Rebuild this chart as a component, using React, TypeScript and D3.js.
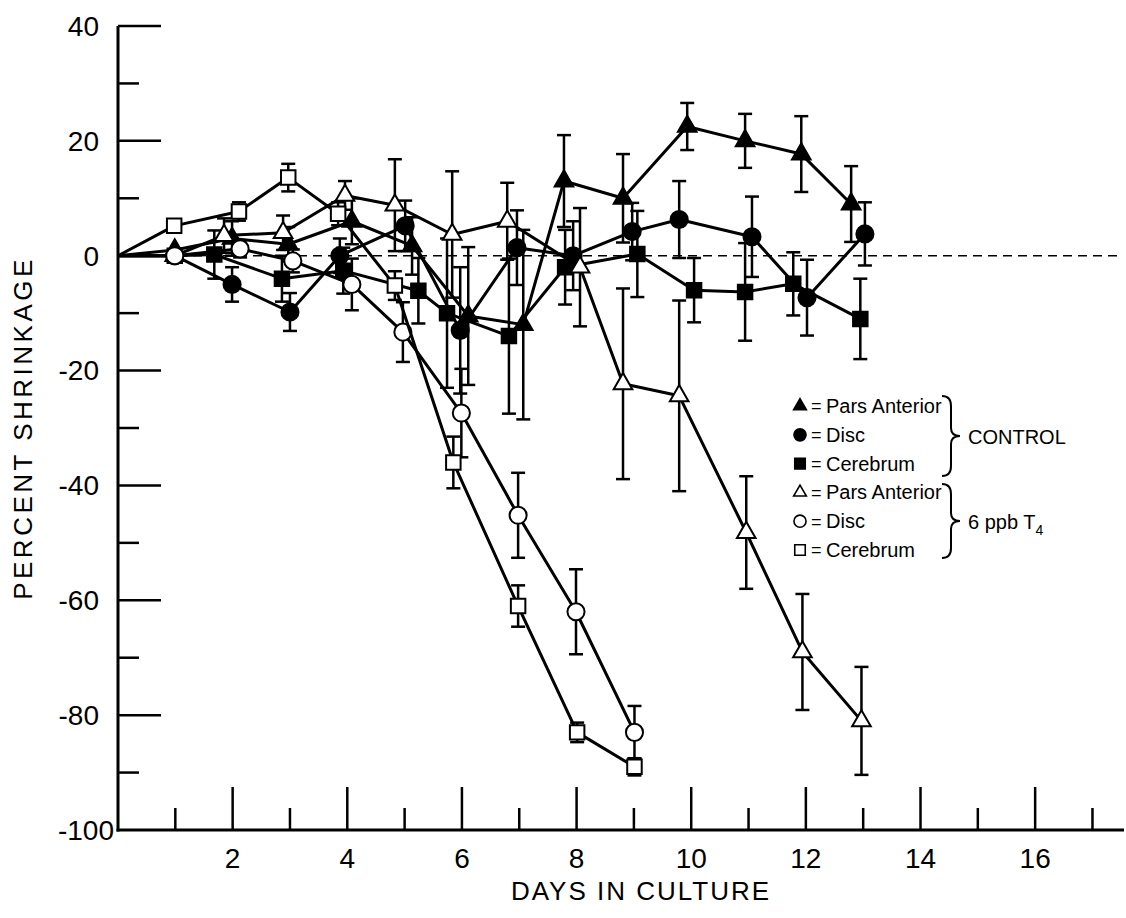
import React from 'react';
import * as d3 from 'd3';

// control, filled markers
const cpaDays = [0, 0.99, 1.99, 2.97, 4.08, 5.13, 6.11, 7.07, 7.78, 8.81, 9.93, 10.94, 11.92, 12.79];
const cpaVals = [0, 1, 3, 2, 6, 1.7, -10.5, -12, 13, 10, 22.5, 20, 17.7, 9];
const cpaErr = [0, 0, 3, 3, 4, 5, 12, 16.5, 8, 7.7, 4.1, 4.7, 6.6, 6.6];

const cdDays = [0, 0.99, 1.99, 3.0, 3.87, 5.01, 5.97, 6.96, 7.94, 8.97, 9.79, 11.06, 12.02, 13.03];
const cdVals = [0, 0, -5, -9.8, 0, 5.2, -13, 1.4, 0, 4.2, 6.3, 3.3, -7.3, 3.8];
const cdErr = [0, 0, 3, 3.3, 3, 4.4, 11, 6.5, 6, 5, 6.7, 7, 6.6, 5.5];

const ccDays = [0, 0.99, 1.68, 2.86, 3.93, 5.24, 5.74, 6.82, 7.8, 9.06, 10.05, 10.94, 11.78, 12.95];
const ccVals = [0, 0, 0.2, -4, -2.6, -6.1, -10, -14, -2, 0.3, -6, -6.3, -4.9, -11];
const ccErr = [0, 0, 4.2, 4, 4, 5.7, 13, 13.5, 6.5, 7.5, 5.6, 8.5, 5.5, 7];

// 6 ppb T4, open markers
const tpaDays = [0, 0.99, 1.85, 2.88, 3.96, 4.83, 5.83, 6.79, 8.06, 8.81, 9.79, 10.96, 11.94, 12.97];
const tpaVals = [0, 0, 3.5, 4, 10.5, 8.8, 3.7, 6, -2, -22.3, -24.4, -48.2, -69, -81];
const tpaErr = [0, 0, 3, 3, 2.5, 8, 11, 6.7, 10.3, 16.6, 16.6, 9.8, 10.1, 9.4];

const tdDays = [0, 0.99, 2.13, 3.05, 4.08, 4.97, 5.99, 6.98, 7.99, 9.01];
const tdVals = [0, 0, 1.2, -0.9, -5, -13.3, -27.4, -45.2, -62, -83];
const tdErr = [0, 0, 1.5, 2, 4.5, 5.2, 7.7, 7.4, 7.4, 4.6];

const tcDays = [0, 0.98, 2.11, 2.97, 3.84, 4.83, 5.85, 6.98, 8.01, 9.01];
const tcVals = [0, 5.2, 7.7, 13.6, 7.3, -5.2, -36, -61, -83, -89];
const tcErr = [0, 0, 1.6, 2.4, 2, 2.5, 4.5, 3.6, 1.7, 1.5];

const xTicks = d3.range(1, 18);
const xTickLabels = [2, 4, 6, 8, 10, 12, 14, 16];
const yTicks = d3.range(-90, 41, 10);
const yTickLabels = [40, 20, 0, -20, -40, -60, -80, -100];

const legendLabels = ['Pars Anterior', 'Disc', 'Cerebrum', 'Pars Anterior', 'Disc', 'Cerebrum'];

const FONT = '"Liberation Sans", Arial, sans-serif';

const x = d3.scaleLinear().domain([0, 17.55]).range([118, 1124]);
const y = d3.scaleLinear().domain([-100, 40]).range([830, 26]);

const shapes: any = {
  triangle: d3.symbolTriangle,
  circle: d3.symbolCircle,
  square: d3.symbolSquare,
};
const sizes: any = { triangle: 150, circle: 230, square: 210 };
const legendSizes: any = { triangle: 70, circle: 115, square: 110 };

const series = [
  { days: cpaDays, vals: cpaVals, errs: cpaErr, shape: 'triangle', filled: true },
  { days: cdDays, vals: cdVals, errs: cdErr, shape: 'circle', filled: true },
  { days: ccDays, vals: ccVals, errs: ccErr, shape: 'square', filled: true },
  { days: tpaDays, vals: tpaVals, errs: tpaErr, shape: 'triangle', filled: false },
  { days: tdDays, vals: tdVals, errs: tdErr, shape: 'circle', filled: false },
  { days: tcDays, vals: tcVals, errs: tcErr, shape: 'square', filled: false },
];

function Brace({ x0, y0, y1 }: { x0: number; y0: number; y1: number }) {
  const ym = (y0 + y1) / 2;
  const d = `M${x0},${y0} Q${x0 + 9},${y0} ${x0 + 9},${y0 + 10} L${x0 + 9},${ym - 8} Q${x0 + 9},${ym} ${x0 + 18},${ym} Q${x0 + 9},${ym} ${x0 + 9},${ym + 8} L${x0 + 9},${y1 - 10} Q${x0 + 9},${y1} ${x0},${y1}`;
  return <path d={d} fill="none" stroke="#000" strokeWidth={2} />;
}

export default function App() {
  return (
    <svg width={1126} height={918} style={{ position: 'absolute', left: 0, top: 0, background: '#fff' }}>
      {/* zero reference */}
      <line x1={x(0)} x2={1120} y1={y(0)} y2={y(0)} stroke="#000" strokeWidth={1.6} strokeDasharray="9 6" />

      {/* axes */}
      <line x1={x(0)} x2={x(0)} y1={y(40)} y2={y(-100) + 1.5} stroke="#000" strokeWidth={3} />
      <line x1={x(0) - 1.5} x2={x(17.55)} y1={y(-100)} y2={y(-100)} stroke="#000" strokeWidth={3} />
      {yTicks.map((t) => (
        <line key={'yt' + t} x1={x(0)} x2={x(0) + (t % 20 === 0 ? 43 : 21)} y1={y(t)} y2={y(t)} stroke="#000" strokeWidth={2.5} />
      ))}
      {xTicks.map((t) => (
        <line key={'xt' + t} x1={x(t)} x2={x(t)} y1={y(-100)} y2={y(-100) - (t % 2 === 0 ? 43 : 22)} stroke="#000" strokeWidth={2.5} />
      ))}
      {yTickLabels.map((t) => (
        <text key={'yl' + t} x={t === -100 ? 114 : 99} y={y(t)} dy="0.35em" textAnchor="end" fontFamily={FONT} fontSize={28}>
          {String(t)}
        </text>
      ))}
      {xTickLabels.map((t) => (
        <text key={'xl' + t} x={x(t)} y={868} textAnchor="middle" fontFamily={FONT} fontSize={28}>
          {t}
        </text>
      ))}
      <text x={641} y={900} textAnchor="middle" fontFamily={FONT} fontSize={26} letterSpacing={2}>DAYS IN CULTURE</text>
      <text transform="translate(32,428) rotate(-90)" textAnchor="middle" fontFamily={FONT} fontSize={26} letterSpacing={3.5}>PERCENT SHRINKAGE</text>

      {/* series */}
      {series.map((s, si) => {
        const pts = s.days.map((d, i) => [x(d), y(s.vals[i])] as [number, number]);
        const path = d3.line()(pts) || '';
        const sym = d3.symbol().type(shapes[s.shape]).size(sizes[s.shape])();
        return (
          <g key={'s' + si}>
            <path d={path} fill="none" stroke="#000" strokeWidth={3} strokeLinejoin="round" />
            {s.days.map((d, i) =>
              s.errs[i] > 0 ? (
                <g key={'e' + i} stroke="#000" strokeWidth={2.5}>
                  <line x1={x(d)} x2={x(d)} y1={y(s.vals[i] + s.errs[i])} y2={y(s.vals[i] - s.errs[i])} />
                  <line x1={x(d) - 7} x2={x(d) + 7} y1={y(s.vals[i] + s.errs[i])} y2={y(s.vals[i] + s.errs[i])} />
                  <line x1={x(d) - 7} x2={x(d) + 7} y1={y(s.vals[i] - s.errs[i])} y2={y(s.vals[i] - s.errs[i])} />
                </g>
              ) : null
            )}
            {s.days.map((d, i) =>
              i === 0 ? null : (
                <path
                  key={'m' + i}
                  d={sym || ''}
                  transform={`translate(${x(d)},${y(s.vals[i])})`}
                  fill={s.filled ? '#000' : '#fff'}
                  stroke="#000"
                  strokeWidth={2}
                />
              )
            )}
          </g>
        );
      })}

      {/* legend */}
      {series.map((s, i) => {
        const ly = 406 + i * 28.8;
        const sym = d3.symbol().type(shapes[s.shape]).size(legendSizes[s.shape])();
        return (
          <g key={'lg' + i}>
            <path d={sym || ''} transform={`translate(800,${ly})`} fill={s.filled ? '#000' : '#fff'} stroke="#000" strokeWidth={1.6} />
            <text x={811} y={ly} dy="0.35em" fontFamily={FONT} fontSize={18}>=</text>
            <text x={826} y={ly} dy="0.35em" fontFamily={FONT} fontSize={20}>{legendLabels[i]}</text>
          </g>
        );
      })}
      <Brace x0={942} y0={396} y1={476} />
      <Brace x0={942} y0={484} y1={558} />
      <text x={968} y={437} dy="0.35em" fontFamily={FONT} fontSize={20}>CONTROL</text>
      <text x={968} y={522} dy="0.35em" fontFamily={FONT} fontSize={20}>
        6 ppb T<tspan dy="6" fontSize={14}>4</tspan>
      </text>
    </svg>
  );
}
